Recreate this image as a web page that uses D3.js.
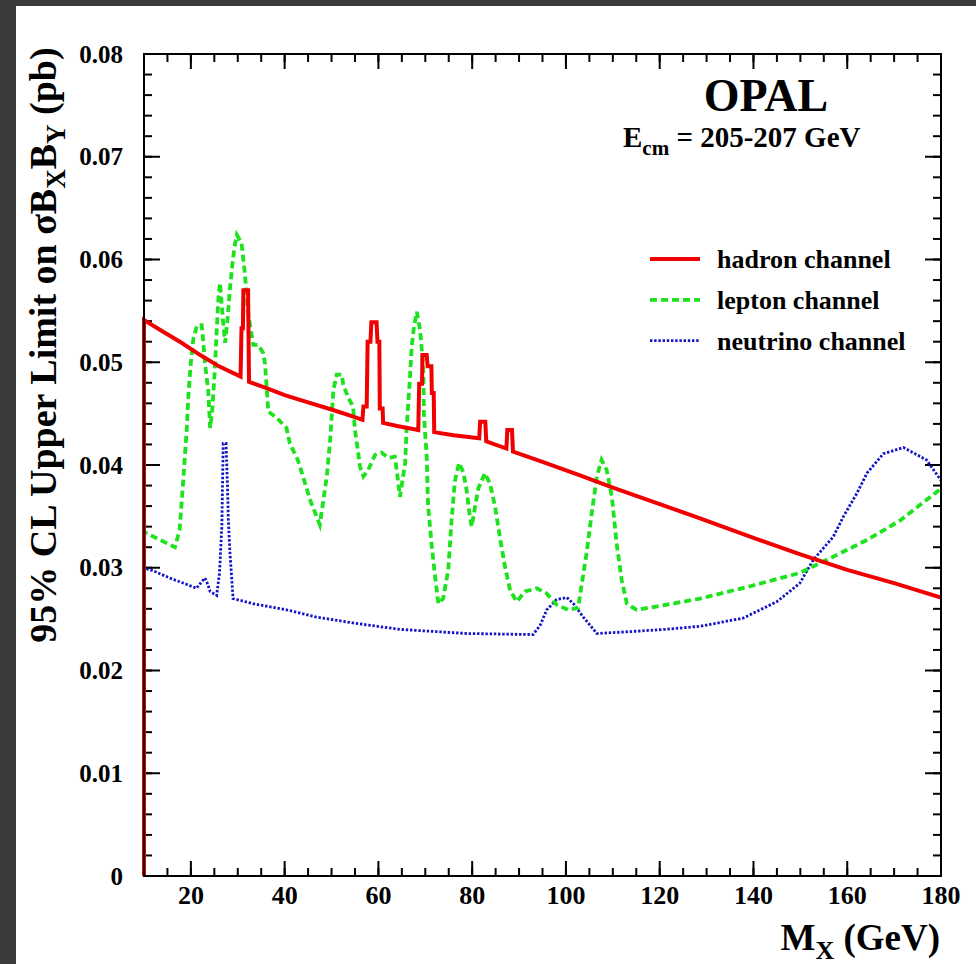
<!DOCTYPE html>
<html>
<head>
<meta charset="utf-8">
<script src="https://d3js.org/d3.v7.min.js"></script>
<style>
  body { margin: 0; background: #3b3b3b; }
  #chart { position: absolute; left: 16px; top: 6px; }
  text { font-family: "Liberation Serif", "Times New Roman", serif; font-weight: bold; fill: #000; }
</style>
</head>
<body>
<div id="chart"></div>
<script>
// values: [M_X (GeV), limit (pb)]
var hadron = [
  [10,0],[10,0.0541],[14,0.0530],[18,0.0519],[22,0.0507],[26,0.0496],[30.6,0.0486],
  [30.8,0.0533],[31.1,0.0533],[31.2,0.0570],[32.2,0.0570],[32.4,0.0481],
  [36,0.0475],[40,0.0468],[45,0.0461],[50,0.0454],[54,0.0448],[56.6,0.0444],
  [56.8,0.0457],[57.5,0.0457],[57.7,0.0520],[58.3,0.0520],[58.5,0.0539],[59.6,0.0539],
  [59.8,0.0520],[60.2,0.0520],[60.3,0.0455],[60.9,0.0455],[61.0,0.0441],
  [64,0.0438],[68.5,0.0434],
  [68.7,0.0479],[69.3,0.0479],[69.4,0.0507],[70.3,0.0507],[70.5,0.0496],[71.3,0.0496],
  [71.4,0.0470],[71.8,0.0470],[71.9,0.0432],
  [76,0.0429],[81.5,0.0426],
  [81.7,0.0442],[82.8,0.0442],[83.0,0.0423],
  [87.3,0.0416],
  [87.5,0.0434],[88.5,0.0434],[88.7,0.0413],
  [95,0.0403],[103,0.0390],[110,0.0378],[120,0.0362],[128.6,0.0348],[140,0.0329],
  [150,0.0313],[160,0.0298],[170,0.0285],[180,0.0271]
];

var lepton = [
  [10,0],[10,0.0335],[13,0.0328],[16.6,0.0320],[17.6,0.0337],[18.3,0.0380],[19.1,0.0434],
  [19.5,0.0470],[20,0.0500],[20.5,0.0522],[21.3,0.0536],[22.3,0.0536],[22.6,0.0522],
  [23,0.0499],[23.7,0.0473],[24.1,0.0436],[24.5,0.0450],[25.1,0.0492],[25.5,0.0531],
  [25.9,0.0564],[26.2,0.0577],[26.9,0.0538],[27.3,0.0519],[27.8,0.0541],[28.3,0.0570],
  [28.8,0.0593],[29.3,0.0612],[29.8,0.0624],[30.8,0.0616],[31.5,0.0587],[32.2,0.0548],
  [32.8,0.0531],[33.3,0.0517],[34.4,0.0517],[35.4,0.0509],[35.8,0.0499],[36.2,0.0473],
  [36.5,0.0452],[38.3,0.0446],[40.4,0.0436],[41.1,0.0421],[42.8,0.0405],[43.9,0.0389],
  [45.5,0.0365],[47.5,0.0342],[49,0.0389],[49.7,0.0424],[50.4,0.0473],[51.1,0.0488],
  [52.2,0.0488],[52.5,0.0478],[53.6,0.0465],[54.6,0.0457],[55,0.0434],[55.5,0.0418],
  [56.1,0.0398],[56.8,0.0389],[57.8,0.0395],[59.3,0.0410],[60.7,0.0412],[62.1,0.0407],
  [63.5,0.0408],[63.9,0.0395],[64.6,0.0369],[65.7,0.0402],[66,0.0434],[66.7,0.0483],
  [67.1,0.0515],[67.6,0.0535],[68.2,0.0549],[68.9,0.0531],[69.2,0.0515],[69.6,0.0489],
  [69.7,0.0450],[70.3,0.0408],[70.6,0.0360],[71.4,0.0320],[72.1,0.0291],[72.8,0.0265],
  [73.8,0.0270],[74.9,0.0298],[75.6,0.0346],[76.3,0.0384],[77.2,0.0402],[78.1,0.0393],
  [78.8,0.0376],[79.5,0.0350],[79.9,0.0340],[80.6,0.0359],[81.3,0.0377],[82.7,0.0392],
  [83.8,0.0382],[84.9,0.0359],[85.9,0.0330],[87,0.0301],[88.1,0.0278],[89.5,0.0267],
  [91.3,0.0277],[93.8,0.0280],[95.9,0.0275],[98,0.0264],[100.5,0.0259],[102.6,0.0261],
  [103.3,0.0282],[104.4,0.0314],[105.5,0.0353],[106.6,0.0389],[107.6,0.0405],[108.7,0.0395],
  [109.8,0.0369],[110.8,0.0324],[111.9,0.0288],[113,0.0265],[115.1,0.0259],[121.5,0.0264],
  [128.6,0.0270],[139.3,0.0282],[149.9,0.0295],[154.9,0.0306],[164.2,0.0327],[171.3,0.0346],
  [180,0.0377]
];

var neutrino = [
  [10,0],[10,0.0300],[12,0.0297],[15.5,0.0290],[19,0.0284],[21.2,0.0280],[22.4,0.0287],
  [23,0.0290],[23.6,0.0284],[24.1,0.0277],[25.5,0.0273],[26.1,0.0295],[26.6,0.0340],
  [26.9,0.0421],[27.5,0.0421],[27.8,0.0380],[28,0.0346],[28.3,0.0317],[29,0.0270],
  [33.3,0.0265],[40.4,0.0259],[46.8,0.0252],[55,0.0246],[64.6,0.0240],[78.8,0.0236],
  [93,0.0235],[94.5,0.0244],[95.9,0.0259],[98,0.0269],[100.2,0.0271],[101.6,0.0265],
  [103.7,0.0252],[106.6,0.0236],[114.4,0.0238],[121,0.0240],[128.6,0.0243],[137.8,0.0251],
  [145,0.0267],[149.9,0.0285],[152.8,0.0308],[157,0.0330],[159.2,0.0350],[162,0.0372],
  [164.2,0.0392],[167.7,0.0411],[172,0.0417],[176.9,0.0405],[180,0.0385]
];

var xLabels = [20, 40, 60, 80, 100, 120, 140, 160, 180];
var yLabels = [0, 0.01, 0.02, 0.03, 0.04, 0.05, 0.06, 0.07, 0.08];
var seriesNames = ["hadron channel", "lepton channel", "neutrino channel"];

var series = [
  {name: seriesNames[0], data: hadron,   color: "#f00000", width: 4,   dash: null},
  {name: seriesNames[1], data: lepton,   color: "#1ee21e", width: 3.8, dash: "7,4"},
  {name: seriesNames[2], data: neutrino, color: "#1414c8", width: 2.8, dash: "2.4,1.8"}
];

var W = 960, H = 958;
var margin = {top: 48, left: 128},
    width = 797,
    height = 822;

var svg = d3.select("#chart")
  .append("svg")
    .attr("width", W)
    .attr("height", H)
    .style("background", "#fff");

var g = svg.append("g")
    .attr("transform", "translate(" + margin.left + "," + margin.top + ")");

var x = d3.scaleLinear().domain([10, 180]).range([0, width]);
var y = d3.scaleLinear().domain([0, 0.08]).range([height, 0]);

// minor ticks
var xMinor = d3.range(10, 181, 5);
var yMinor = d3.range(0, 41).map(function(i) { return i * 0.002; });

function tickSet(cls, data, len, horizontal) {
  // draw ticks on both opposite sides, pointing inward
  var sel = g.append("g").attr("class", cls).attr("stroke", "#000").attr("stroke-width", 2);
  data.forEach(function(v) {
    if (horizontal) {
      sel.append("line").attr("x1", x(v)).attr("x2", x(v)).attr("y1", height).attr("y2", height - len);
      sel.append("line").attr("x1", x(v)).attr("x2", x(v)).attr("y1", 0).attr("y2", len);
    } else {
      sel.append("line").attr("x1", 0).attr("x2", len).attr("y1", y(v)).attr("y2", y(v));
      sel.append("line").attr("x1", width).attr("x2", width - len).attr("y1", y(v)).attr("y2", y(v));
    }
  });
}
tickSet("xminor", xMinor, 8, true);
tickSet("xmajor", xLabels, 15, true);
tickSet("yminor", yMinor, 8, false);
tickSet("ymajor", yLabels, 16, false);

// tick labels
g.append("g")
  .selectAll("text")
  .data(xLabels)
  .join("text")
    .attr("x", function(d) { return x(d); })
    .attr("y", height + 28)
    .attr("text-anchor", "middle")
    .style("font-size", "26px")
    .text(function(d) { return d; });

g.append("g")
  .selectAll("text")
  .data(yLabels)
  .join("text")
    .attr("x", -21)
    .attr("y", function(d) { return y(d); })
    .attr("dy", "0.34em")
    .attr("text-anchor", "end")
    .style("font-size", "25px")
    .text(function(d) { return d === 0 ? "0" : d.toFixed(2); });

// curves
g.append("clipPath").attr("id", "clip")
  .append("rect").attr("x", -2).attr("y", 0).attr("width", width + 2).attr("height", height);

var line = d3.line()
  .x(function(d) { return x(d[0]); })
  .y(function(d) { return y(d[1]); });

series.slice().reverse().forEach(function(s) {
  g.append("path")
    .datum(s.data)
    .attr("clip-path", "url(#clip)")
    .attr("fill", "none")
    .attr("stroke", s.color)
    .attr("stroke-width", s.width)
    .attr("stroke-linejoin", "miter")
    .attr("stroke-dasharray", s.dash)
    .attr("d", line);
});

// frame
g.append("rect")
  .attr("width", width)
  .attr("height", height)
  .attr("fill", "none")
  .attr("stroke", "#000")
  .attr("stroke-width", 2);

// legend
var legend = g.append("g").attr("transform", "translate(506,205)");
series.forEach(function(s, i) {
  var row = legend.append("g").attr("transform", "translate(0," + (i * 40.8) + ")");
  row.append("line")
    .attr("x1", 0).attr("x2", 50)
    .attr("stroke", s.color)
    .attr("stroke-width", s.width)
    .attr("stroke-dasharray", s.dash);
  row.append("text")
    .attr("x", 67)
    .attr("dy", "0.35em")
    .style("font-size", "26px")
    .text(s.name);
});

// experiment label
g.append("text")
  .attr("x", 622)
  .attr("y", 57)
  .attr("text-anchor", "middle")
  .style("font-size", "46px")
  .text("OPAL");

var ecm = g.append("text")
  .attr("x", 479)
  .attr("y", 93)
  .style("font-size", "29px");
ecm.append("tspan").text("E");
ecm.append("tspan").attr("dy", 8).style("font-size", "21px").text("cm");
ecm.append("tspan").attr("dy", -8).text(" = 205-207 GeV");

// axis titles
var xt = svg.append("text")
  .attr("x", 924)
  .attr("y", 944)
  .attr("text-anchor", "end")
  .style("font-size", "37px");
xt.append("tspan").text("M");
xt.append("tspan").attr("dy", 9).style("font-size", "26px").text("X");
xt.append("tspan").attr("dy", -9).text(" (GeV)");

var yt = svg.append("text")
  .attr("transform", "translate(40,339) rotate(-90)")
  .attr("text-anchor", "middle")
  .style("font-size", "38px");
yt.append("tspan").text("95% CL Upper Limit on \u03c3B");
yt.append("tspan").attr("dy", 9).style("font-size", "27px").text("X");
yt.append("tspan").attr("dy", -9).text("B");
yt.append("tspan").attr("dy", 9).style("font-size", "27px").text("Y");
yt.append("tspan").attr("dy", -9).text(" (pb)");
</script>
</body>
</html>
